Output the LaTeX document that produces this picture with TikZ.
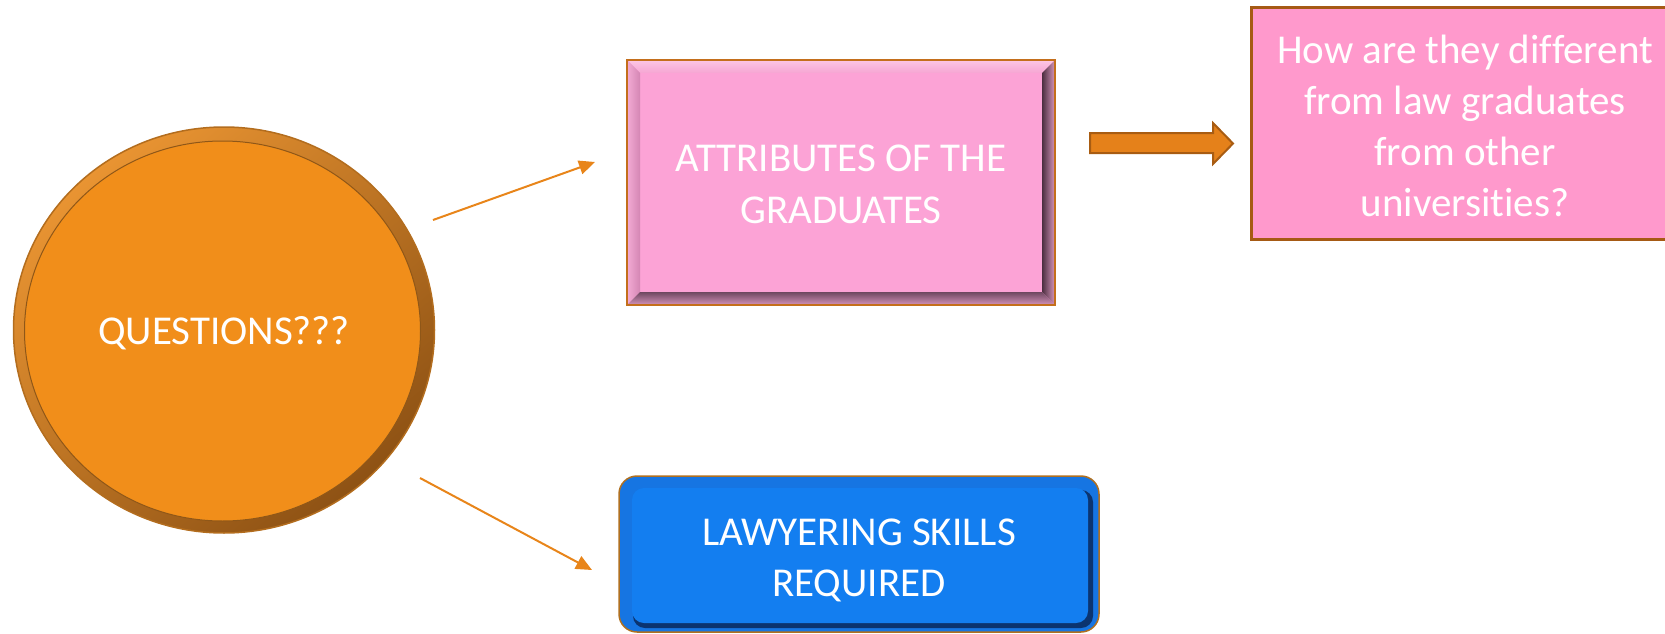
\documentclass[tikz,border=0pt]{standalone}
\usepackage{fontspec}
\setmainfont{Carlito}[Ligatures=NoCommon]
\usetikzlibrary{arrows.meta,shapes.geometric,calc}

\definecolor{qface}{HTML}{F18E1A}
\definecolor{qlight}{HTML}{E99432}
\definecolor{qdark}{HTML}{8E5214}
\definecolor{qedge}{HTML}{B36D1E}
\definecolor{attrface}{HTML}{FCA3D6}
\definecolor{attredge}{HTML}{C46F1C}
\definecolor{bevtopA}{HTML}{FCC6E5}
\definecolor{bevtopB}{HTML}{F6A6D3}
\definecolor{bevleftA}{HTML}{F3ABD4}
\definecolor{bevleftB}{HTML}{D486B4}
\definecolor{bevrightA}{HTML}{4C2E40}
\definecolor{bevrightB}{HTML}{D896BC}
\definecolor{bevbotA}{HTML}{6E4860}
\definecolor{bevbotB}{HTML}{D592BA}
\definecolor{skillface}{HTML}{137EF0}
\definecolor{skillring}{HTML}{1675E2}
\definecolor{skillshadow}{HTML}{0B3470}
\definecolor{skilledge}{HTML}{B07020}
\definecolor{diffface}{HTML}{FF99CC}
\definecolor{diffedge}{HTML}{A65A14}
\definecolor{linkorange}{HTML}{E8851A}
\definecolor{blockfill}{HTML}{E5811A}
\definecolor{blockedge}{HTML}{A85C12}

\tikzset{
  boxtext/.style={text=white, align=center},
  questionnode/.style={ellipse, minimum width=421pt, minimum height=406pt,
    inner sep=0pt, outer sep=0pt, draw=qedge, line width=1.5pt,
    shading=axis, top color=qlight, bottom color=qdark, shading angle=40,
    text=white, font=\fontsize{41}{50}\selectfont, text depth=0pt,
    path picture={
      \fill[qface, draw=qedge!80!black, line width=1pt]
        ($(path picture bounding box.center)+(-1.5,1)$)
        ellipse [x radius=198pt, y radius=190pt];
    }},
  attrnode/.style={rectangle, minimum width=428pt, minimum height=245pt,
    inner sep=0pt, fill=attrface, draw=attredge, line width=2pt,
    boxtext, font=\fontsize{41}{52}\selectfont,
    path picture={
      \coordinate (o1) at (path picture bounding box.north west);
      \coordinate (o2) at (path picture bounding box.north east);
      \coordinate (o3) at (path picture bounding box.south east);
      \coordinate (o4) at (path picture bounding box.south west);
      \coordinate (i1) at ($(o1)+(13,13)$);
      \coordinate (i2) at ($(o2)+(-13,13)$);
      \coordinate (i3) at ($(o3)+(-13,-13)$);
      \coordinate (i4) at ($(o4)+(13,-13)$);
      \shade[top color=bevtopA, bottom color=bevtopB] (o1) -- (o2) -- (i2) -- (i1) -- cycle;
      \shade[left color=bevleftA, right color=bevleftB] (o1) -- (i1) -- (i4) -- (o4) -- cycle;
      \shade[left color=bevrightA, right color=bevrightB] (o2) -- (o3) -- (i3) -- (i2) -- cycle;
      \shade[top color=bevbotA, bottom color=bevbotB] (o4) -- (i4) -- (i3) -- (o3) -- cycle;
    }},
  skillnode/.style={rectangle, rounded corners=18pt, minimum width=480pt,
    minimum height=156pt, inner sep=0pt, draw=skilledge, line width=1.5pt,
    fill=skillring, boxtext, font=\fontsize{41}{51}\selectfont,
    path picture={
      \fill[skillshadow, rounded corners=12pt]
        ($(path picture bounding box.north west)+(14,14)$) rectangle
        ($(path picture bounding box.south east)+(-6,-4)$);
      \fill[skillface, rounded corners=12pt]
        ($(path picture bounding box.north west)+(13,12)$) rectangle
        ($(path picture bounding box.south east)+(-11,-9)$);
    }},
  diffnode/.style={rectangle, minimum width=428pt, minimum height=231pt,
    inner sep=0pt, fill=diffface, draw=diffedge, line width=3pt,
    boxtext, font=\fontsize{41}{51}\selectfont},
  thinlink/.style={draw=linkorange, line width=2pt,
    -{Triangle[length=16pt, width=14pt]}},
  blockarrow/.style={fill=blockfill, draw=blockedge, line width=2pt,
    line join=miter}
}

\begin{document}
\begin{tikzpicture}[x=1pt, y=-1pt]
\useasboundingbox (0,0) rectangle (1665,634);

% central question disc
\node[questionnode] (q) at (224,330) {QUESTIONS???};

% bevelled pink box
\node[attrnode] (attr) at (841,182.5)
  {\rule{0pt}{30pt}ATTRIBUTES OF THE\\GRADUATES};

% rounded blue button (the strut lowers the two lines a little)
\node[skillnode] (skills) at (859,554)
  {\rule{0pt}{40pt}LAWYERING SKILLS\\REQUIRED};

% flat pink box, running off the right edge
\node[diffnode] (diff) at (1465,123.5)
  {\rule{0pt}{34pt}How are they different\\from law graduates\\from other\\universities?};

% thin connectors from the disc
\coordinate (upstart) at (433,220);
\coordinate (upend) at (595,162);
\coordinate (downstart) at (420,478);
\coordinate (downend) at (592,570);
\draw[thinlink] (upstart) -- (upend);
\draw[thinlink] (downstart) -- (downend);

% block arrow between the pink boxes
\draw[blockarrow] (1090,133) -- (1213,133) -- (1213,123) -- (1233,143.5)
  -- (1213,164) -- (1213,153) -- (1090,153) -- cycle;
\end{tikzpicture}
\end{document}
